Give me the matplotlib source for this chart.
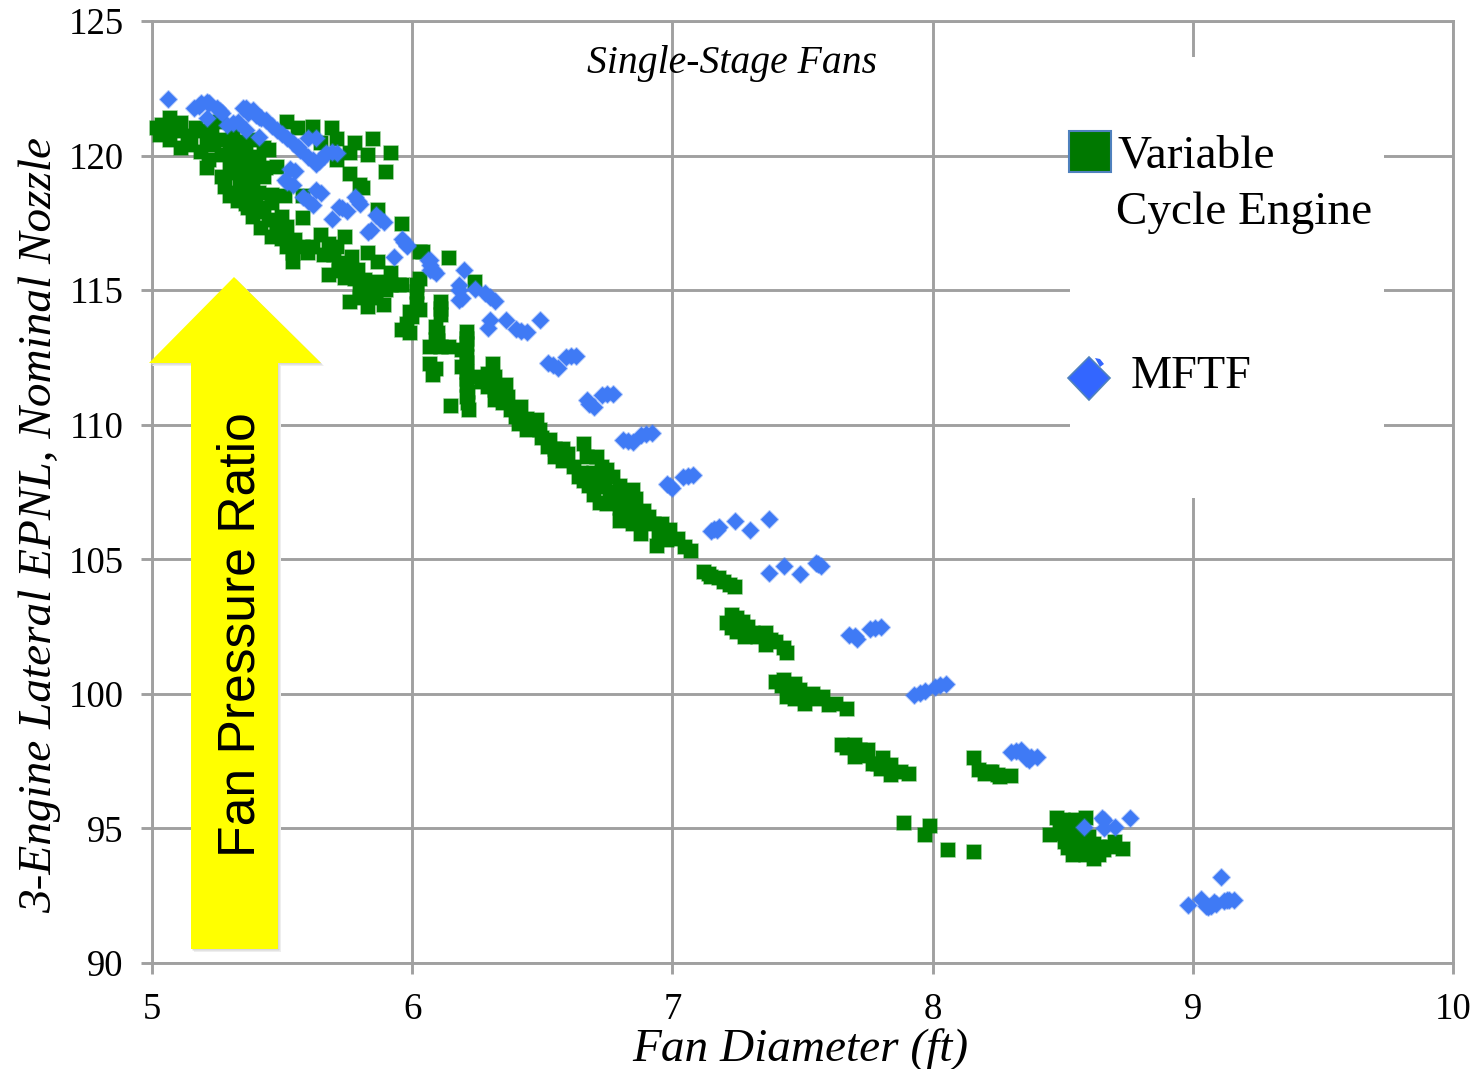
import matplotlib
matplotlib.use("Agg")
import matplotlib.pyplot as plt
from matplotlib.patches import Polygon, Rectangle

W, H = 1478, 1069

# Variable Cycle Engine points
vce_x = [5.02, 5.04, 5.07, 5.07, 5.11, 5.03, 5.07, 5.11, 5.14, 5.17, 5.21, 5.19, 5.23, 5.26, 5.26, 5.31, 5.35, 5.39,
         5.43, 5.45, 5.22, 5.21, 5.27, 5.32, 5.36, 5.41, 5.39, 5.35, 5.44, 5.48, 5.27, 5.32, 5.28, 5.34, 5.39, 5.43,
         5.30, 5.36, 5.41, 5.46, 5.37, 5.43, 5.46, 5.39, 5.45, 5.50, 5.52, 5.46, 5.51, 5.55, 5.54, 5.54, 5.60, 5.58,
         5.51, 5.58, 5.52, 5.56, 5.62, 5.69, 5.71, 5.65, 5.78, 5.85, 5.92, 5.83, 5.76, 5.71, 5.90, 5.76, 5.80, 5.81,
         5.87, 5.96, 6.04,
         5.65, 5.74, 5.71, 5.66, 5.77, 5.83, 5.87, 5.68, 5.74, 5.79, 5.82, 5.92, 5.87, 5.95, 5.76, 5.83, 5.89, 5.82, 5.90,
         6.03, 6.02, 6.02, 5.99, 6.03, 5.98, 5.99, 5.96, 5.96, 6.03, 6.14, 6.24,
         6.11, 6.11, 6.09, 6.09, 6.11, 6.14, 6.07, 6.07, 6.09, 6.08,
         6.21, 6.21, 6.19, 6.21, 6.19, 6.21, 6.25, 6.21, 6.21, 6.22, 6.15,
         6.31, 6.29, 6.32, 6.29, 6.32, 6.36, 6.37, 6.38, 6.42, 6.41, 6.44, 6.48, 6.49,
         6.53, 6.52, 6.58, 6.55, 6.58, 6.66, 6.71, 6.67, 6.73, 6.62, 6.64, 6.68, 6.72, 6.70, 6.77, 6.80, 6.85, 6.86,
         6.75, 6.78, 6.82, 6.80, 6.85, 6.89, 6.91, 6.88, 6.94, 6.96, 6.99, 7.02, 7.05, 7.07,
         7.12, 7.15, 7.18, 7.20, 7.22, 7.24,
         7.23, 7.21, 7.23, 7.27, 7.28, 7.31, 7.36, 7.36, 7.40, 7.43, 7.44,
         7.40, 7.43, 7.44, 7.47, 7.49, 7.51, 7.54, 7.58, 7.60, 7.63, 7.67,
         7.65, 7.70, 7.70, 7.75, 7.77, 7.81, 7.84, 7.84, 7.88, 7.91,
         7.89, 7.97, 7.99, 8.06, 8.16,
         8.16, 8.18, 8.20, 8.23, 8.26, 8.30,
         8.48, 8.45, 8.49, 8.54, 8.59, 8.51, 8.54, 8.59, 8.59, 8.62, 8.62, 8.66, 8.70, 8.73, 8.52,
         # denser parts of the clouds
         5.10, 5.15, 5.18, 5.24, 5.30, 5.33, 5.30, 5.37, 5.40, 5.33, 5.33, 5.40, 5.36, 5.42, 5.48, 5.48, 5.42, 5.50, 5.52,
         5.58, 5.62, 5.68, 5.70, 5.72, 5.75, 5.78, 5.80, 5.86, 5.80, 5.86, 5.92, 5.72,
         6.02, 6.00, 6.11, 6.10, 6.10, 6.21, 6.21, 6.21, 6.215, 6.215, 6.27, 6.32, 6.34, 6.35, 6.40, 6.44, 6.46, 6.50,
         6.55, 6.60, 6.65, 6.66, 6.74, 6.76, 6.70, 6.75, 6.72, 6.80, 6.84, 6.83, 6.88, 6.93, 6.95, 6.98, 6.83,
         7.14, 7.25, 7.25, 7.29, 7.33, 7.38, 7.42, 7.46, 7.47, 7.52, 7.56, 7.67, 7.72, 7.73, 7.79, 7.80, 8.25, 8.22,
         8.50, 8.53, 8.56, 8.53, 8.56, 8.57, 8.60, 8.60, 8.64, 8.64, 8.68, 8.51, 8.55, 8.50]
vce_y = [121.02, 121.14, 121.39, 120.95, 121.20, 120.77, 120.58, 120.27, 120.71, 121.02, 120.58, 120.15, 121.08, 121.26,
         120.58, 120.77, 120.52, 120.58, 120.27, 120.21, 119.84, 119.53, 120.02, 120.15, 120.09, 119.96, 119.65, 119.59,
         119.53, 119.59, 119.22, 119.34, 118.85, 118.97, 119.10, 119.22, 118.48, 118.60, 118.60, 118.54, 118.04, 118.04,
         118.23, 117.73, 117.61, 117.73, 117.36, 116.99, 117.24, 116.86, 116.37, 116.06, 116.37, 117.67, 118.48, 118.48,
         121.26, 121.02, 121.08, 121.02, 120.61, 120.46, 120.46, 120.61, 120.09, 120.02, 120.09, 119.84, 119.38, 119.31,
         118.91, 118.79, 117.96, 117.46, 116.43,
         117.05, 116.99, 116.62, 116.31, 116.25, 116.37, 116.06, 115.56, 115.44, 115.75, 115.38, 115.63, 115.32, 115.19,
         114.57, 114.39, 114.45, 114.88, 115.00,
         115.43, 114.94, 114.50, 114.19, 114.26, 113.76, 113.39, 113.51, 115.19, 116.43, 116.18, 115.31,
         114.57, 114.07, 113.64, 113.14, 112.89, 112.89, 112.89, 112.27, 112.08, 111.84,
         113.45, 113.01, 112.77, 112.52, 112.15, 111.96, 111.77, 111.46, 111.03, 110.53, 110.69,
         112.27, 111.90, 111.77, 111.40, 110.90, 111.46, 111.03, 110.53, 110.66, 110.04, 109.79, 110.16, 109.79,
         109.42, 109.17, 109.11, 108.80, 108.67, 109.29, 108.80, 108.80, 108.42, 108.42, 108.05, 107.74, 107.68, 107.37,
         108.05, 107.74, 107.56, 107.25, 107.06, 107.31, 107.06, 106.44, 106.32, 106.81, 106.56, 105.94, 105.51, 106.32,
         106.07, 105.76, 105.45, 105.32,
         104.54, 104.35, 104.29, 104.17, 104.04, 103.96,
         102.93, 102.62, 102.43, 102.68, 102.12, 102.25, 102.25, 101.81, 101.94, 101.69, 101.50,
         100.45, 100.51, 99.89, 100.38, 100.14, 99.64, 100.01, 99.89, 99.58, 99.64, 99.45,
         98.09, 98.09, 97.66, 97.90, 97.41, 97.60, 96.97, 97.34, 97.10, 97.03,
         95.21, 94.76, 95.09, 94.20, 94.13,
         97.63, 97.16, 97.03, 97.10, 96.91, 96.94,
         95.37, 94.75, 95.00, 95.12, 95.37, 94.50, 94.00, 94.50, 94.00, 93.88, 94.44, 94.19, 94.50, 94.22, 94.26,
         # denser parts of the clouds
         120.9, 120.4, 120.9, 120.4, 120.3, 119.9, 119.6, 119.3, 119.4, 118.6, 118.3, 118.3, 118.2, 117.9, 117.5, 117.2,
         117.3, 116.9, 116.6, 116.6, 116.6, 116.7, 116.3, 116.0, 115.9, 115.4, 115.0, 115.0, 114.7, 114.7, 115.2, 115.7,
         115.2, 114.0, 114.3, 113.4, 113.1, 113.2, 112.3, 111.7, 111.2, 110.8, 111.6, 111.3, 111.2, 110.8, 110.3, 110.2,
         109.9, 109.5, 109.1, 108.9, 108.2, 107.9, 107.9, 107.5, 108.2, 108.3, 107.1, 106.9, 106.9, 106.6, 106.4, 106.3,
         105.9, 105.7, 107.3,
         104.45, 102.8, 102.3, 102.5, 102.1, 102.0, 100.3, 100.1, 99.8, 99.9, 99.8, 98.0, 97.9, 97.7, 97.4, 97.2, 97.0, 97.1,
         94.8, 94.8, 94.6, 94.3, 94.2, 94.9, 94.7, 94.2, 94.3, 94.0, 94.3, 95.2, 95.3, 95.3]

# MFTF points
mftf_x = [5.06, 5.16, 5.19, 5.21, 5.26, 5.21, 5.29, 5.33, 5.36, 5.41, 5.36, 5.39, 5.41, 5.44, 5.48, 5.50, 5.54, 5.57,
          5.60, 5.63, 5.62, 5.64, 5.67, 5.71, 5.55, 5.51, 5.54, 5.58, 5.62, 5.63, 5.65, 5.73, 5.69, 5.79, 5.86, 5.89,
          5.83, 5.97, 5.93, 6.06, 6.08,
          5.98, 6.07, 6.07, 6.20, 6.24, 6.18, 6.18, 6.30, 6.29, 6.30, 6.36, 6.42, 6.49,
          6.54, 6.61, 6.68, 6.75, 6.83, 6.90, 6.99, 7.06, 7.16,
          7.17, 7.24, 7.30, 7.37, 7.37, 7.43, 7.49, 7.56, 7.70, 7.78, 7.95, 8.03,
          8.32, 8.34, 8.38, 8.40, 8.37,
          8.58, 8.65, 8.66, 8.70, 8.76,
          8.98, 9.03, 9.06, 9.09, 9.11, 9.14, 9.13,
          # overlapping runs inside the blobs
          5.18, 5.22, 5.25, 5.27, 5.31, 5.35, 5.37, 5.40, 5.42, 5.46, 5.52, 5.56, 5.60, 5.63, 5.66, 5.69, 5.53, 5.52, 5.60,
          5.72, 5.75, 5.78, 5.80, 5.875, 5.96, 5.98, 6.07, 6.09, 5.84, 6.18, 6.19, 6.28, 6.32, 6.40, 6.44, 6.52, 6.56, 6.59,
          6.63, 6.67, 6.70, 6.73, 6.77, 6.81, 6.85, 6.88, 6.92, 6.98, 7.00, 7.04, 7.08, 7.15, 7.18, 7.68, 7.71, 7.76, 7.80,
          7.93, 7.97, 8.01, 8.05, 8.30, 8.36, 8.66, 9.05, 9.07, 9.12, 9.16, 9.08, 7.55, 7.57]
mftf_y = [122.09, 121.76, 121.95, 122.00, 121.67, 121.39, 121.14, 121.26, 120.95, 120.68, 121.76, 121.70, 121.43, 121.33,
          120.95, 120.81, 120.46, 120.21, 120.64, 120.64, 119.84, 119.78, 120.09, 120.09, 119.41, 119.10, 118.91, 118.45,
          118.17, 118.72, 118.60, 118.04, 117.63, 118.33, 117.79, 117.55, 117.17, 116.78, 116.22, 116.12, 115.75,
          116.67, 116.12, 115.74, 115.74, 115.06, 115.19, 114.63, 114.75, 113.61, 113.88, 113.88, 113.49, 113.88,
          112.21, 112.54, 110.78, 111.13, 109.38, 109.66, 107.74, 108.11, 106.13,
          106.09, 106.44, 106.09, 106.49, 104.48, 104.75, 104.44, 104.81, 102.15, 102.46, 100.04, 100.32,
          97.88, 97.90, 97.67, 97.64, 97.54,
          95.06, 95.37, 95.00, 95.06, 95.37,
          92.17, 92.39, 92.08, 92.21, 93.20, 92.33, 92.33,
          # overlapping runs inside the blobs
          121.85, 121.95, 121.75, 121.6, 121.2, 121.75, 121.6, 121.5, 121.4, 121.1, 120.65, 120.3, 119.95, 119.7, 120.0,
          120.15, 119.5, 119.0, 118.3, 118.1, 117.95, 118.45, 118.2, 117.65, 116.9, 116.65, 115.95, 115.65, 117.25, 115.0,
          114.7, 114.9, 114.6, 113.55, 113.45, 112.3, 112.1, 112.5, 112.55, 110.9, 110.65, 111.1, 111.15, 109.45, 109.35,
          109.6, 109.7, 107.8, 107.65, 108.05, 108.15, 106.05, 106.2, 102.2, 102.05, 102.4, 102.5, 99.95, 100.1, 100.25,
          100.35, 97.85, 97.6, 95.3, 92.1, 92.1, 92.3, 92.35, 92.25, 104.85, 104.75]

x_ticks = [5, 6, 7, 8, 9, 10]
y_ticks = [90, 95, 100, 105, 110, 115, 120, 125]

GRAY = "#a0a0a0"
GREEN = "#008000"
BLUE = "#3f7af5"
SERIF = "Liberation Serif"


def fx(px):
    return px / W


def fy(py):
    return 1 - py / H


fig = plt.figure(figsize=(W / 100, H / 100), dpi=100)
ax = fig.add_axes([fx(152), fy(963), fx(1453) - fx(152), fy(21) - fy(963)])
ax.set_xlim(5, 10)
ax.set_ylim(90, 125)
ax.set_xticks(x_ticks)
ax.set_yticks(y_ticks)
ax.grid(True, color=GRAY, lw=2.1)
ax.set_axisbelow(True)
for s in ax.spines.values():
    s.set_color(GRAY)
    s.set_linewidth(2.1)
ax.tick_params(axis="both", length=8, width=2.1, color=GRAY, labelsize=26.5, pad=12.5)
ax.tick_params(axis="x", pad=13)
for lab in ax.get_xticklabels() + ax.get_yticklabels():
    lab.set_fontfamily(SERIF)

ax.scatter(vce_x, vce_y, marker="s", s=98, color=GREEN, edgecolors=(0, 0.5, 0, 0.4), linewidths=1.4, zorder=3,
           clip_on=False)
ax.scatter(mftf_x, mftf_y, marker="D", s=76, color=BLUE, edgecolors=(0.25, 0.48, 0.96, 0.4), linewidths=1.4, zorder=4,
           clip_on=False)

# white box the legend sits on, hides the gridlines
ax.add_patch(Rectangle((fx(1070), fy(498)), fx(1384) - fx(1070), fy(57) - fy(498), transform=fig.transFigure,
                       facecolor="white", edgecolor="none", zorder=5))
ax.add_patch(Rectangle((fx(1069), fy(172)), fx(1111) - fx(1069), fy(131) - fy(172), transform=fig.transFigure,
                       facecolor="#007800", edgecolor="#4f81bd", lw=1.5, zorder=6))
ax.add_patch(Polygon([(fx(1095), fy(358)), (fx(1100), fy(359)), (fx(1104), fy(364)), (fx(1100), fy(367))],
                     transform=fig.transFigure, facecolor="#3366ff", edgecolor="none", zorder=6))
ax.add_patch(Polygon([(fx(1089), fy(357)), (fx(1110), fy(378)), (fx(1089), fy(400)), (fx(1068), fy(378))],
                     transform=fig.transFigure, facecolor="#3366ff", edgecolor="#4f81bd", lw=1.2, zorder=6))
fig.text(fx(1117), fy(156), "Variable", family=SERIF, fontsize=34, va="center", ha="left", zorder=7)
fig.text(fx(1116), fy(213), "Cycle Engine", family=SERIF, fontsize=34, va="center", ha="left", zorder=7)
fig.text(fx(1131), fy(377), "MFTF", family=SERIF, fontsize=33.3, va="center", ha="left", zorder=7)

# yellow arrow with soft shadow
arrow = [(191, 949), (191, 363), (149, 363), (234, 277), (321, 363), (278, 363), (278, 949)]
for off, col in [(3, "#eeeeee"), (1.5, "#d8d8d8")]:
    ax.add_patch(Polygon([(fx(a + off), fy(b + off)) for a, b in arrow], transform=fig.transFigure,
                         facecolor=col, edgecolor="none", zorder=7, clip_on=False))
ax.add_patch(Polygon([(fx(a), fy(b)) for a, b in arrow], transform=fig.transFigure,
                     facecolor="#ffff00", edgecolor="none", zorder=8, clip_on=False))
ax.text(fx(241), fy(635), "Fan Pressure Ratio", transform=fig.transFigure, rotation=90, family="Liberation Sans",
        fontsize=37.2, ha="center", va="center", zorder=9)

ax.text(fx(732), fy(63), "Single-Stage Fans", transform=fig.transFigure, family=SERIF, style="italic",
        fontsize=28.5, ha="center", va="center", zorder=9)
fig.text(fx(800), fy(1050), "Fan Diameter (ft)", family=SERIF, style="italic", fontsize=34, ha="center", va="center")
fig.text(fx(40), fy(525), "3-Engine Lateral EPNL, Nominal Nozzle", family=SERIF, style="italic", fontsize=34,
         rotation=90, ha="center", va="center")

fig.savefig("out.png", dpi=100)
